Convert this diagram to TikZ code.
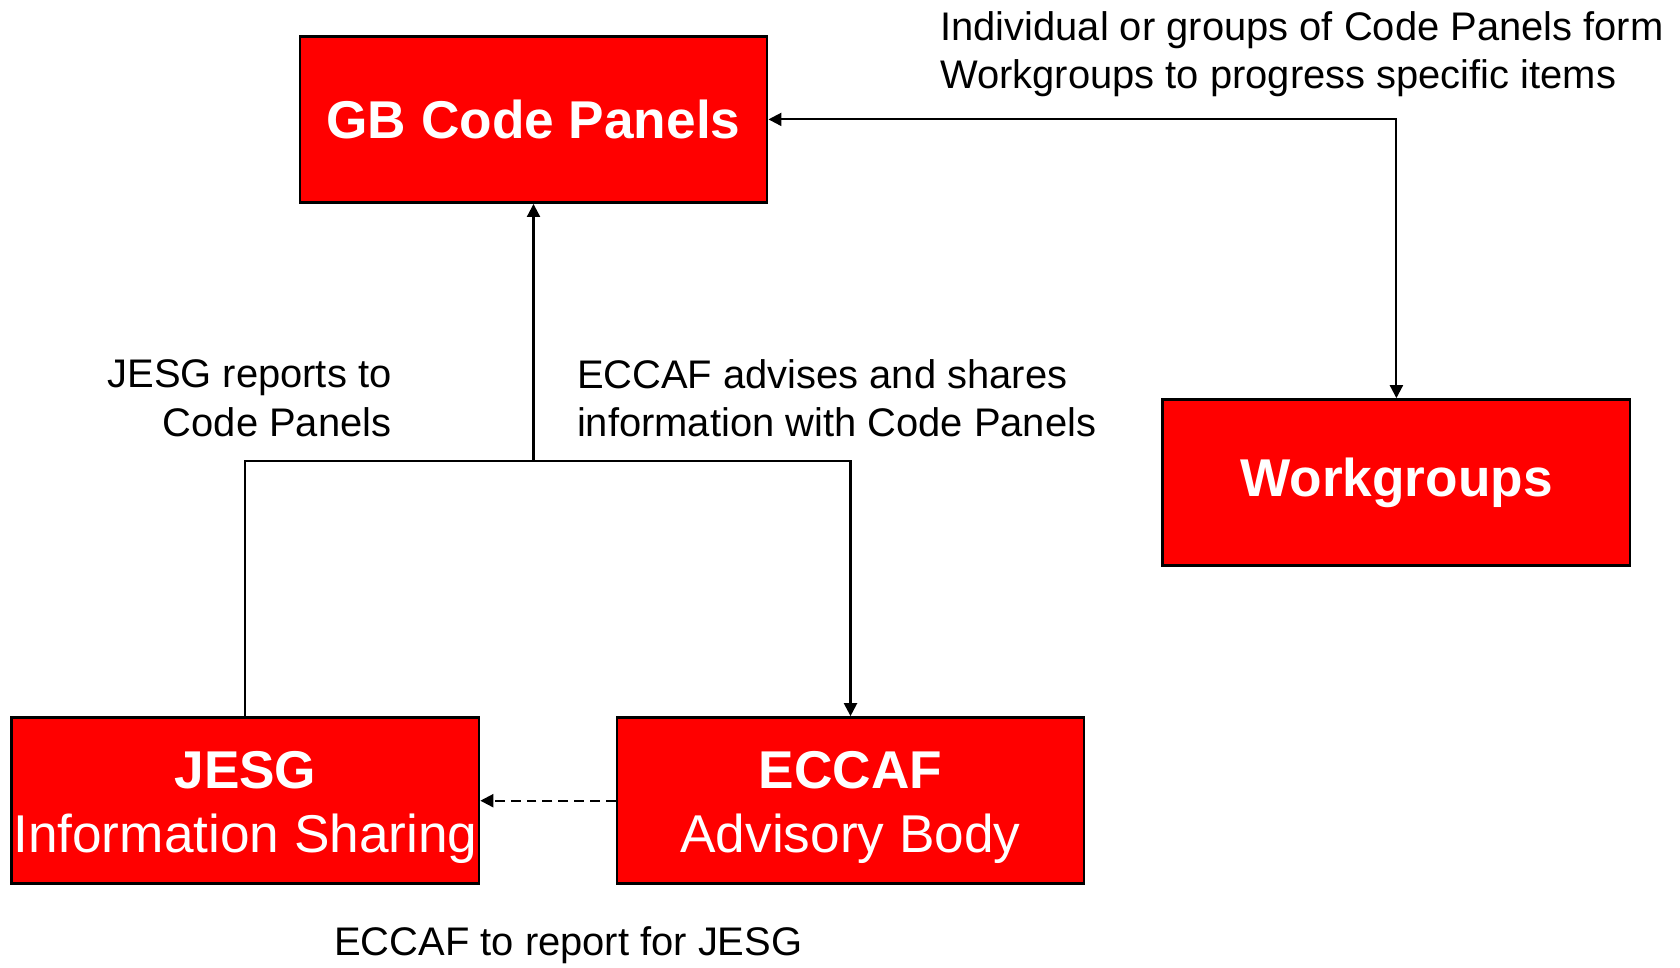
\documentclass[tikz,border=0pt]{standalone}
\usepackage{fontspec}
\setmainfont{Liberation Sans}
\usetikzlibrary{arrows.meta}

\begin{document}
\begin{tikzpicture}[x=0.01cm, y=-0.01cm,
        >={Triangle[length=3.7pt, width=3.7pt]},
        panel/.style={draw=black, line width=0.8pt, fill=red, text=white, minimum width=4.668cm, minimum height=1.662cm, inner sep=0pt, align=center, font=\fontsize{15.13}{18.3}\selectfont},
        note/.style={inner sep=0pt, font=\fontsize{11.35}{13.75}\selectfont},
        link/.style={line width=0.6pt}]
        \useasboundingbox (0,0) rectangle (1680,967);

        \node[panel] (gb) at (533.5,119.4) {\textbf{GB Code Panels}};
        \node[panel] (wg) at (1396.4,482.7) {\textbf{Workgroups}};
        \node[panel] (jesg) at (245.4,800.7) {\textbf{\rule{0pt}{14.5pt}JESG}\\Information Sharing};
        \node[panel] (eccaf) at (850.5,800.7) {\textbf{\rule{0pt}{14.5pt}ECCAF}\\Advisory Body};

        \coordinate (fork) at (533.5,460.8);
        \draw[link] (jesg.north) |- (fork);
        \draw[link, ->] (fork) -- (gb.south);
        \draw[link, ->] (fork) -| (eccaf.north);
        \draw[link, <->] (gb.east) -| (wg.north);
        \draw[link, ->, dash pattern=on 2.8pt off 1.7pt] (eccaf.west) -- (jesg.east);

        \node[note, anchor=west, align=left] (formnote) at (939.6,54) {Individual or groups of Code Panels form\\Workgroups to progress specific items};
        \node[note, anchor=east, align=right] (reportnote) at (392.1,398.1) {JESG reports to\\Code Panels};
        \node[note, anchor=west, align=left] (advisenote) at (576.3,398.1) {ECCAF advises and shares\\information with Code Panels};
        \node[note] (sharenote) at (568.3,945.5) {ECCAF to report for JESG};
    \end{tikzpicture}
\end{document}
